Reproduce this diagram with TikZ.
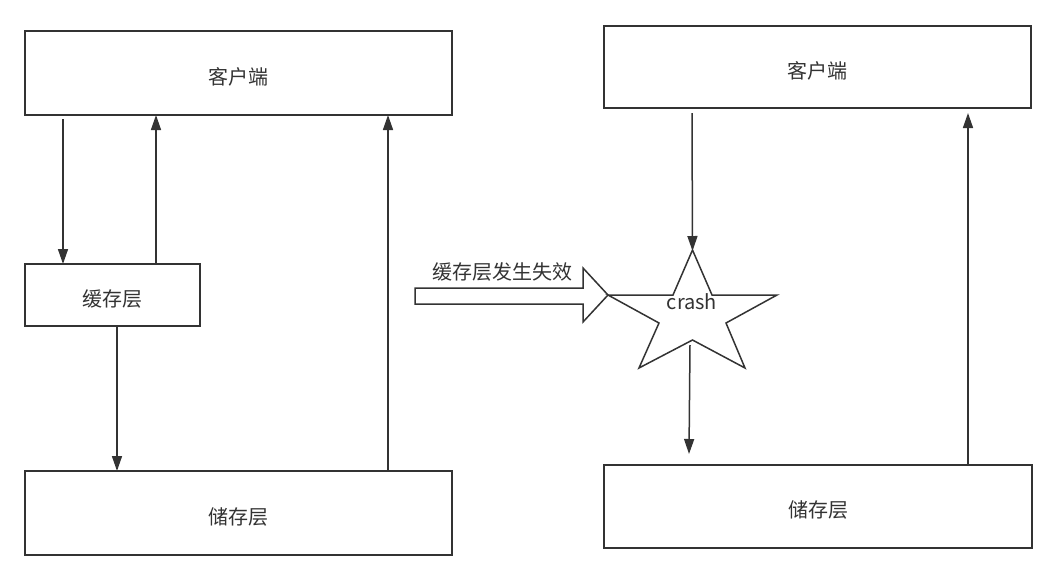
\documentclass[tikz,border=0pt]{standalone}
\usepackage{fontspec}
\setmainfont{Noto Sans CJK SC}
\usetikzlibrary{arrows.meta}
\definecolor{ln}{HTML}{333333}
\tikzset{
  box/.style={draw=ln, line width=0.75pt, fill=white, inner sep=0pt, outer sep=0pt, text=ln, font=\fontsize{10}{12}\selectfont, text height=12pt, text depth=1pt},
  arr/.style={draw=ln, line width=0.75pt, -{Triangle[length=7.5pt,width=5pt]}},
  lbl/.style={text=ln, inner sep=0pt, font=\fontsize{10}{12}\selectfont}
}
\begin{document}
\begin{tikzpicture}[x=0.5pt,y=-0.5pt]
\useasboundingbox (0,0) rectangle (1056,580);
% left column
\node[box, minimum width=213.5pt, minimum height=42pt] (c1) at (238.5,73) {客户端};
\node[box, minimum width=87.5pt, minimum height=31pt] (cache) at (112.5,295) {缓存层};
\node[box, minimum width=213.5pt, minimum height=42pt] (s1) at (238.5,513) {储存层};
% right column
\node[box, minimum width=213.5pt, minimum height=41pt] (c2) at (817.5,67) {客户端};
\node[box, minimum width=214pt, minimum height=41.5pt] (s2) at (818,506.5) {储存层};
% left arrows
\draw[arr] ([shift={(38,4)}]c1.south west) -- ([shift={(38,0)}]cache.north west);
\draw[arr] ([shift={(131,0)}]cache.north west) -- ([shift={(131,0)}]c1.south west);
\draw[arr] ([shift={(92,0)}]cache.south west) -- ([shift={(92,0)}]s1.north west);
\draw[arr] ([shift={(363,0)}]s1.north west) -- ([shift={(363,0)}]c1.south west);
% block arrow
\draw[draw=ln, line width=0.75pt, fill=white] (415,288) -- (583,288) -- (583,268) -- (608,295) -- (583,322) -- (583,304) -- (415,304) -- cycle;
\node[lbl] (fail) at (502,272) {缓存层发生失效};
% star
\coordinate (startop) at (692.5,251);
\coordinate (starbot) at (690,345);
\draw[draw=ln, line width=0.75pt, fill=white] (692.5,250) -- (712,295) -- (777,295) -- (726,323) -- (745,368) -- (692.5,340) -- (639,368) -- (659,323) -- (608,295) -- (673,295) -- cycle;
\node[lbl] (crash) at (692,302) {crash};
% right arrows
\draw[arr] ([shift={(88,5)}]c2.south west) -- (startop);
\draw[arr] (starbot) -- ([shift={(85,-11)}]s2.north west);
\draw[arr] ([shift={(364,0)}]s2.north west) -- ([shift={(364,5)}]c2.south west);
\end{tikzpicture}
\end{document}
